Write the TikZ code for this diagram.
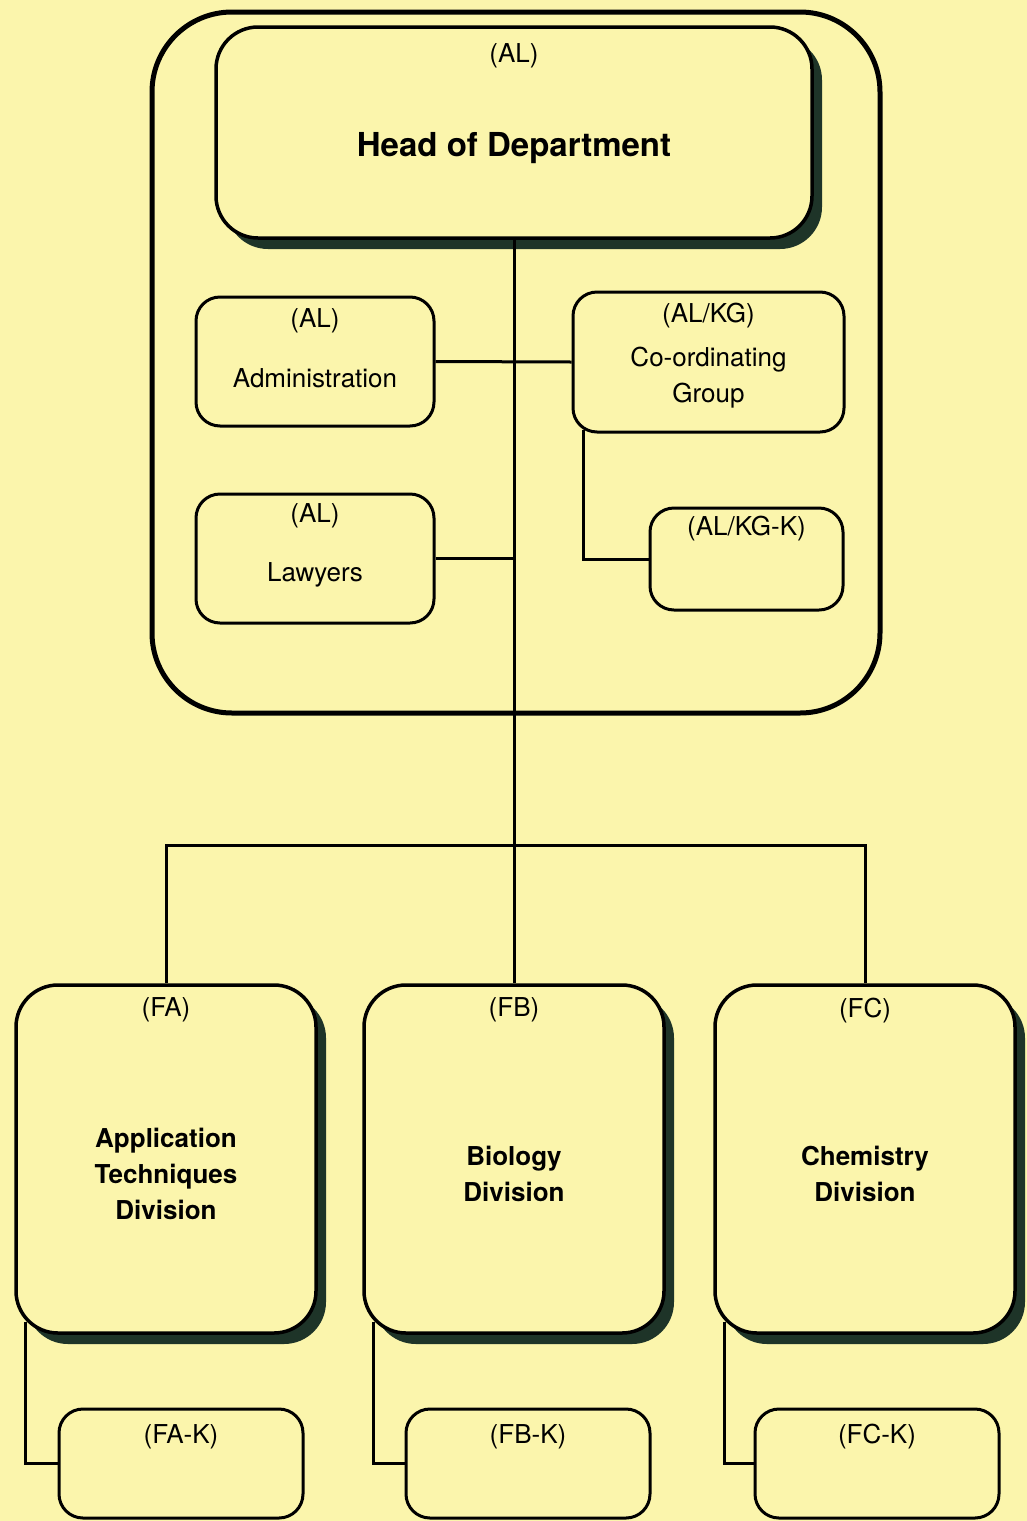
\documentclass[tikz,border=0pt]{standalone}
\usepackage{fontspec}
\setmainfont{TeX Gyre Heros}
\usetikzlibrary{positioning,calc,shadows}

\definecolor{paper}{RGB}{251,245,172}
\definecolor{shadowgreen}{RGB}{30,52,40}

\tikzset{
  deptframe/.style={draw,line width=5pt,rounded corners=80pt,minimum width=728pt,minimum height=701pt},
  unitbox/.style={draw,fill=paper,line width=3pt,rounded corners=24pt},
  shadowbox/.style={unitbox,line width=3.5pt,rounded corners=42pt,
    drop shadow={shadow xshift=10pt,shadow yshift=-11pt,fill=shadowgreen,opacity=1}},
  codetext/.style={inner sep=0pt,font=\fontsize{26}{30}\selectfont},
  nametext/.style={inner sep=0pt,align=center,font=\fontsize{26}{36}\selectfont},
  boldtext/.style={inner sep=0pt,align=center,font=\fontsize{26}{36}\selectfont\bfseries},
  link/.style={line width=3pt}
}

\begin{document}
\begin{tikzpicture}[x=1pt,y=-1pt]
    % Paper
    \fill[paper] (0,0) rectangle (1027,1521);

    %%%% Department ==================================
    \node[deptframe] (dept) at (516,362.5) {};

    % Head
    \node[shadowbox,minimum width=596pt,minimum height=211pt] (head) at (514,132.5) {};
    \node[codetext] (headcode) at ([yshift=-31pt]head.north) {(AL)};
    \node[boldtext,font=\fontsize{33}{40}\selectfont\bfseries] (headname) at ([yshift=-15.5pt]head.center) {Head of Department};

    % Staff units
    \node[unitbox,minimum width=238pt,minimum height=129pt] (adm) at (315,361.5) {};
    \node[codetext] (admcode) at ([yshift=-25pt]adm.north) {(AL)};
    \node[nametext] (admname) at ([yshift=-16.5pt]adm.center) {Administration};

    \node[unitbox,minimum width=238pt,minimum height=129pt] (law) at (315,558.5) {};
    \node[codetext] (lawcode) at ([yshift=-23pt]law.north) {(AL)};
    \node[nametext] (lawname) at ([yshift=-16.5pt]law.center) {Lawyers};

    \node[unitbox,minimum width=271pt,minimum height=140pt] (coord) at (708.5,362) {};
    \node[codetext] (coordcode) at ([yshift=-25pt]coord.north) {(AL/KG)};
    \node[nametext] (coordname) at ([yshift=-15.5pt]coord.center) {Co-ordinating\\Group};

    \node[unitbox,minimum width=193pt,minimum height=102pt] (kgk) at (746.5,559) {};
    \node[codetext] (kgkcode) at ([yshift=-22pt]kgk.north) {(AL/KG-K)};

    %%%% Divisions ===================================
    \node[shadowbox,minimum width=300pt,minimum height=348pt] (fa) at (166,1159) {};
    \node[codetext] (facode) at ([yshift=-27pt]fa.north) {(FA)};
    \node[boldtext] (faname) at ([yshift=-15pt]fa.center) {Application\\Techniques\\Division};

    \node[shadowbox,minimum width=300pt,minimum height=348pt] (fb) at (514,1159) {};
    \node[codetext] (fbcode) at ([yshift=-27pt]fb.north) {(FB)};
    \node[boldtext] (fbname) at ([yshift=-15pt]fb.center) {Biology\\Division};

    \node[shadowbox,minimum width=300pt,minimum height=348pt] (fc) at (865,1159) {};
    \node[codetext] (fccode) at ([yshift=-27pt]fc.north) {(FC)};
    \node[boldtext] (fcname) at ([yshift=-15pt]fc.center) {Chemistry\\Division};

    % Division staff
    \node[unitbox,minimum width=244pt,minimum height=109pt] (fak) at (181,1463.5) {};
    \node[codetext] (fakcode) at ([yshift=-29pt]fak.north) {(FA-K)};
    \node[unitbox,minimum width=244pt,minimum height=109pt] (fbk) at (528,1463.5) {};
    \node[codetext] (fbkcode) at ([yshift=-29pt]fbk.north) {(FB-K)};
    \node[unitbox,minimum width=244pt,minimum height=109pt] (fck) at (877,1463.5) {};
    \node[codetext] (fckcode) at ([yshift=-29pt]fck.north) {(FC-K)};

    %%%% Connectors ==================================
    \coordinate (bus) at (514,845);
    \draw[link] (head.south) -- (fb.north);
    \draw[link] (adm.east) -- (coord.west);
    \draw[link] (law.east) -- (law.east -| head.south);
    \draw[link] ([xshift=12pt,yshift=4pt]coord.south west) |- (kgk.west);
    \draw[link] (fa.north) |- (bus) -| (fc.north);
    \draw[link] ([xshift=11pt,yshift=13pt]fa.south west) |- (fak.west);
    \draw[link] ([xshift=11pt,yshift=13pt]fb.south west) |- (fbk.west);
    \draw[link] ([xshift=11pt,yshift=13pt]fc.south west) |- (fck.west);
\end{tikzpicture}
\end{document}
